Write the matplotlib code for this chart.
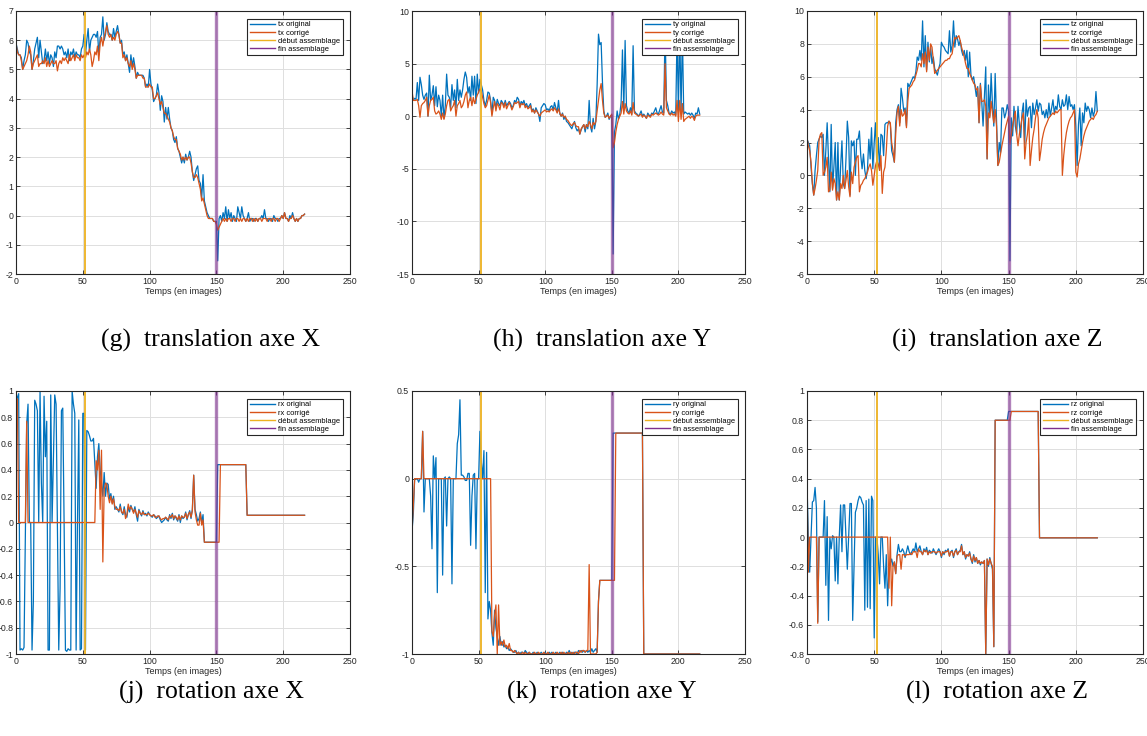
import numpy as np
import matplotlib.pyplot as plt
from matplotlib.ticker import FuncFormatter

# --------------------------
# DONNEES
# --------------------------
debut_assemblage = 52
fin_assemblage = 150

tx_original = [
    5.9, 5.7, 5.5, 5.5, 5.4, 5.0, 5.3, 5.5, 6.0, 5.9,
    5.6, 5.5, 5.0, 5.3, 5.7, 5.9, 6.1, 5.4, 6.0, 5.6,
    5.2, 5.3, 5.7, 5.3, 5.6, 5.2, 5.5, 5.4, 5.1, 5.6,
    5.4, 5.8, 5.8, 5.7, 5.8, 5.7, 5.5, 5.6, 5.4, 5.7,
    5.3, 5.6, 5.5, 5.7, 5.4, 5.6, 5.5, 5.5, 5.4, 5.7,
    5.8, 6.2, 5.5, 6.0, 6.4, 5.6, 6.0, 6.1, 6.2, 6.2,
    6.1, 6.3, 5.5, 6.1, 6.2, 6.8, 6.0, 6.2, 6.6, 6.3,
    6.2, 6.2, 6.0, 6.4, 6.1, 6.3, 6.5, 6.2, 5.9, 6.0,
    5.5, 5.6, 5.3, 5.5, 5.2, 4.9, 5.5, 5.1, 5.4, 5.1,
    4.7, 4.9, 4.8, 4.8, 4.8, 4.8, 4.7, 4.4, 4.5, 4.4,
    5.0, 4.5, 4.3, 3.9, 4.0, 4.1, 4.5, 4.2, 3.6, 4.1,
    3.9, 3.2, 3.7, 3.3, 3.7, 3.3, 3.0, 2.9, 2.6, 2.5,
    2.7, 2.3, 2.2, 2.0, 1.8, 2.0, 1.8, 2.1, 1.9, 2.0,
    2.2, 2.0, 1.5, 1.2, 1.4, 1.6, 1.7, 1.2, 1.1, 0.6,
    1.4, 0.5, 0.3, 0.1, 0.0, -0.1, -0.1, -0.1, -0.2, -0.2,
    -0.2, -1.55, -0.1, 0.0, -0.2, 0.1, -0.1, 0.3, -0.2, 0.2,
    -0.1, 0.1, -0.2, 0.0, -0.1, -0.2, 0.3, 0.1, -0.1, 0.3,
    0.0, -0.1, -0.2, -0.1, 0.1, -0.2, -0.1, -0.1, -0.2, -0.1,
    -0.1, -0.2, -0.1, -0.1, 0.0, -0.1, 0.2, -0.1, -0.1, -0.2,
    -0.1, -0.1, -0.2, 0.0, -0.1, -0.1, -0.2, -0.1, -0.1, 0.0,
    -0.1, 0.1, -0.1, -0.1, -0.2, 0.0, -0.1, 0.1, -0.1, -0.2,
    -0.1, -0.2, -0.1, -0.1, 0.0, 0.0, 0.05,
]
tx_corrige = [
    5.9, 5.6, 5.5, 5.5, 5.3, 5.0, 5.1, 5.2, 5.3, 5.5,
    5.8, 5.6, 5.0, 5.2, 5.3, 5.4, 5.5, 5.1, 5.2, 5.2,
    5.3, 5.2, 5.4, 5.1, 5.3, 5.1, 5.2, 5.3, 5.2, 5.2,
    5.3, 4.95, 5.2, 5.3, 5.2, 5.4, 5.3, 5.4, 5.3, 5.2,
    5.5, 5.3, 5.4, 5.5, 5.3, 5.5, 5.4, 5.4, 5.3, 5.5,
    5.4, 5.5, 5.4, 5.6, 5.5, 5.7, 5.5, 5.1, 5.3, 5.6,
    5.5, 5.8, 5.3, 5.9, 6.1, 5.8, 6.1, 6.3, 6.5, 6.2,
    6.1, 6.2, 6.0, 6.1, 6.0, 6.2, 6.3, 6.2, 5.9, 5.9,
    5.4, 5.5, 5.3, 5.4, 5.2, 5.1, 5.3, 5.0, 5.2, 5.0,
    4.7, 4.8, 4.8, 4.8, 4.8, 4.7, 4.7, 4.4, 4.4, 4.4,
    4.5, 4.4, 4.4, 4.0, 4.0, 4.1, 4.2, 4.0, 3.8, 3.9,
    3.7, 3.5, 3.5, 3.4, 3.3, 3.2, 3.0, 2.9, 2.7, 2.6,
    2.6, 2.3, 2.2, 2.1, 1.9, 2.0, 1.9, 2.0, 1.9, 2.0,
    2.0, 1.8, 1.5, 1.3, 1.3, 1.4, 1.3, 1.1, 0.9, 0.5,
    0.6, 0.4, 0.2, 0.0, -0.1, -0.1, -0.1, -0.1, -0.2, -0.2,
    -0.3, -0.5, -0.4, -0.3, -0.2, -0.1, -0.2, -0.1, -0.2, -0.1,
    -0.1, -0.2, -0.1, -0.1, -0.2, -0.1, -0.1, -0.2, -0.1, -0.2,
    -0.1, -0.1, -0.2, -0.1, -0.2, -0.1, -0.1, -0.2, -0.1, -0.2,
    -0.1, -0.2, -0.1, -0.1, -0.2, -0.1, -0.1, -0.1, -0.2, -0.1,
    -0.1, -0.2, -0.1, -0.1, -0.2, -0.1, -0.1, -0.2, -0.1, 0.0,
    -0.1, 0.1, -0.1, -0.1, -0.2, -0.1, -0.1, 0.0, -0.1, -0.2,
    -0.1, -0.2, -0.1, -0.1, 0.0, 0.0, 0.05,
]

ty_original = [
    2.0, 1.5, 1.7, 1.6, 3.2, 1.5, 3.7, 3.0, 2.0, 1.6,
    2.0, 2.2, 0.0, 3.9, 1.5, 2.0, 2.9, 1.0, 2.8, 0.9,
    2.0, 1.5, 0.0, 2.0, -0.2, 1.0, 4.0, 2.0, 1.8, 0.8,
    3.0, 1.5, 2.5, 0.8, 3.5, 1.5, 2.5, 1.8, 2.5, 3.5,
    4.2, 3.7, 2.2, 2.8, 1.5, 3.8, 2.0, 3.8, 1.2, 4.0,
    2.2, 3.5, 3.0, 2.5, 1.5, 1.0, 1.5, 2.3, 2.2, 1.5,
    0.2, 1.8, 1.5, 0.8, 1.6, 1.2, 1.0, 1.5, 1.3, 1.0,
    1.5, 1.0, 1.2, 1.4, 1.2, 0.8, 1.0, 1.5, 1.3, 1.8,
    1.6, 1.0, 1.4, 1.2, 1.5, 1.0, 1.2, 0.8, 1.0, 1.2,
    0.5, 0.7, 0.3, 0.8, 0.5, 0.2, -0.5, 0.8, 1.0, 1.2,
    1.1, 0.6, 0.7, 0.5, 0.9, 1.0, 0.6, 1.3, 0.8, 0.4,
    1.5, 0.2, 0.0, 0.3, -0.3, 0.0, -0.5, -0.6, -0.8, -1.0,
    -1.2, -0.8, -0.5, -1.1, -1.4, -1.2, -1.7, -1.3, -1.0, -0.8,
    -1.5, -0.8, -1.2, 1.5, -1.0, -1.5, -0.2, -1.2, -0.5, 3.0,
    7.8, 6.8, 7.0, 3.2, 0.5, -0.1, 0.0, 0.3, -0.3, 0.0,
    0.1, -13.1, -1.5, -0.8, 0.5, -0.3, 0.2, 1.3, 6.3, 0.5,
    7.2, 1.0, 0.5, 0.3, 0.8, 0.2, 6.7, 0.5, 0.3, 0.2,
    0.0, 0.2, 0.5, 0.0, 0.2, 0.0, -0.2, 0.3, 0.1, 0.0,
    0.3, 0.2, 0.5, 0.8, 0.3, 0.2, 0.6, 1.0, 0.4, 0.3,
    8.5, 1.5, 1.0, 0.3, 0.2, 0.5, 0.3, 0.4, 0.1, 8.0,
    0.5, 8.5, 0.3, 8.0, 0.2, 0.4, 0.3, 0.2, 0.3, 0.1,
    0.3, 0.1, -0.2, 0.3, 0.2, 0.8, 0.2,
]
ty_corrige = [
    2.4, 1.5, 1.5, 1.5, 1.6, 1.0, -0.1, 1.0, 1.2, 1.3,
    1.5, 1.8, 0.0, 1.0, 1.5, 1.6, 1.8, 0.5, 0.2, 0.3,
    0.5, 0.2, -0.3, 0.3, -0.3, 0.2, 1.0, 1.5, 1.6, 0.5,
    0.8, 1.0, 1.5, 0.0, 1.0, 1.2, 1.5, 0.8, 1.0, 1.4,
    2.0, 2.3, 0.8, 1.5, 1.8, 1.0, 1.8, 1.2, 1.6, 2.0,
    2.3, 2.6, 2.4, 1.8, 1.2, 0.8, 1.0, 1.5, 2.0, 1.3,
    0.0, 0.8, 1.4, 0.5, 1.2, 1.0, 0.6, 1.3, 1.2, 0.8,
    1.3, 0.7, 1.0, 1.3, 1.0, 0.6, 0.9, 1.3, 1.2, 1.3,
    1.4, 0.8, 1.2, 1.1, 1.2, 0.8, 1.0, 0.7, 0.8, 1.0,
    0.4, 0.6, 0.3, 0.6, 0.4, 0.2, 0.0, 0.3, 0.4, 0.5,
    0.6, 0.4, 0.5, 0.4, 0.6, 0.7, 0.5, 0.8, 0.6, 0.3,
    0.7, 0.3, 0.0, 0.2, -0.1, 0.0, -0.3, -0.4, -0.6, -0.8,
    -0.9, -0.7, -0.6, -0.9, -1.0, -1.0, -1.7, -1.2, -1.0, -0.8,
    -1.2, -0.8, -1.0, -0.5, -0.8, -1.2, -0.6, -0.8, -0.5, 0.5,
    1.5, 2.5, 3.1, 1.5, 0.3, -0.1, 0.0, 0.1, -0.2, 0.0,
    0.2, -3.0, -2.5, -1.5, -0.8, -0.3, 0.0, 0.3, 1.4, 0.2,
    1.2, 0.5, 0.3, 0.2, 0.5, 0.1, 1.3, 0.3, 0.2, 0.1,
    0.0, 0.1, 0.2, -0.1, 0.1, 0.0, -0.2, 0.1, 0.0, -0.1,
    0.2, 0.1, 0.2, 0.3, 0.2, 0.1, 0.2, 0.4, 0.2, 0.1,
    5.0, 0.8, 0.5, 0.2, 0.1, 0.3, 0.1, 0.2, 0.0, 1.5,
    -0.5, 1.5, -0.3, 1.2, -0.5, -0.3, -0.2, -0.1, 0.0, -0.2,
    0.0, -0.1, -0.4, 0.0, 0.1, 0.1, 0.1,
]

tz_original = [
    2.2, 2.0, 1.8, 0.5, -0.5, -1.2, 0.3, 1.2, 2.0, 2.2,
    2.4, 2.3, 2.5, 0.0, 1.5, 3.2, 1.0, -1.0, 3.1, -0.8,
    0.5, 2.0, -1.5, 2.0, -1.5, 0.5, 2.1, -0.5, -0.8, 1.0,
    3.3, 2.3, -1.2, 2.1, 1.8, 2.1, 0.0, 2.2, 2.2, 2.7,
    1.2, 0.4, 1.3, 0.3, -0.2, 0.4, 2.2, 1.0, 2.9, 0.4,
    2.0, 3.2, 0.5, 2.3, 0.3, 2.5, 2.4, 1.2, 3.1, 3.2,
    3.2, 3.3, 3.1, 1.5, 1.2, 0.8, 3.2, 4.0, 4.3, 3.2,
    5.3, 4.7, 3.9, 4.1, 3.0, 5.6, 5.4, 5.6, 5.8, 6.0,
    5.9, 6.3, 7.2, 7.0, 7.6, 7.0, 9.4, 6.6, 8.5, 6.4,
    8.1, 6.9, 7.8, 6.8, 7.2, 6.5, 6.3, 6.1, 6.5, 6.8,
    8.1, 7.9, 7.8, 7.6, 7.5, 7.4, 8.8, 7.5, 7.9, 9.4,
    7.8, 8.5, 8.3, 7.9, 8.2, 7.6, 7.3, 7.6, 7.0, 7.6,
    6.0, 7.5, 6.1, 5.8, 6.0, 5.4, 4.8, 5.4, 3.2, 5.6,
    4.5, 3.0, 4.8, 6.6, 1.0, 5.5, 3.6, 6.2, 4.3, 3.0,
    6.2, 3.5, 0.6, 2.0, 1.4, 4.1, 4.1, 3.5, 3.8, 4.3,
    3.9, -5.2, 3.5, 2.4, 4.2, 3.0, 2.5, 4.2, 3.1, 2.3,
    3.8, 4.4, 1.9, 4.6, 3.6, 4.1, 4.2, 2.9, 4.4, 3.7,
    4.1, 4.6, 3.9, 4.4, 4.3, 3.7, 3.9, 3.5, 4.0, 3.5,
    4.4, 3.6, 4.1, 4.6, 3.8, 4.2, 4.0, 4.9, 4.2, 4.0,
    4.6, 4.2, 4.3, 4.9, 4.0, 4.8, 4.2, 4.3, 4.0, 4.3,
    3.0, 0.6, 3.1, 4.1, 1.8, 3.8, 3.2, 4.4, 3.9, 4.2,
    4.0, 3.5, 4.1, 3.6, 3.9, 5.1, 3.9,
]
tz_corrige = [
    2.3, 1.8, 1.5, 0.8, -0.5, -1.2, -0.8, -0.3, 0.3, 2.2,
    2.5, 2.6, 0.0, 0.2, 0.5, 1.1, -1.0, -0.9, 0.2, -0.9,
    -0.2, -0.5, -1.5, -1.0, -1.5, -0.5, -0.8, 0.0, -0.8, -0.3,
    0.3, -0.7, -1.3, 0.2, -0.5, 0.5, 0.8, 1.1, 1.2, -1.0,
    -0.6, -0.5, -0.3, -0.2, 0.0, 0.2, 0.5, 0.7, 0.3, -0.6,
    0.0, 0.6, 0.9, 0.7, 0.3, 1.2, -1.1, 0.2, 0.5, 1.5,
    3.0, 3.3, 3.2, 2.0, 1.5, 0.8, 2.5, 3.8, 4.2, 3.0,
    4.0, 3.6, 3.7, 4.0, 2.9, 4.5, 5.3, 5.4, 5.5, 5.7,
    5.8, 6.1, 6.4, 6.8, 6.8, 6.6, 7.4, 6.8, 7.5, 6.3,
    7.8, 7.0, 8.0, 7.8, 7.0, 6.2, 6.3, 6.4, 6.5, 6.6,
    6.7, 6.8, 6.9, 7.0, 7.0, 7.1, 7.1, 7.3, 7.4, 8.0,
    8.4, 8.3, 8.4, 8.5, 8.2, 7.8, 7.5, 7.2, 6.8, 6.5,
    6.5, 6.2, 6.0, 5.8, 5.6, 5.5, 5.2, 5.3, 3.2, 5.5,
    4.5, 4.5, 4.6, 4.2, 1.0, 3.8, 3.5, 4.5, 3.8, 3.2,
    4.0, 3.0, 0.6, 0.8, 1.3, 1.8, 2.2, 2.6, 3.0, 3.3,
    3.6, 1.9, 2.5, 3.0, 3.5, 3.9, 2.5, 1.8, 2.5, 3.0,
    3.5, 3.8, 1.0, 2.0, 2.5, 3.5, 0.6, 1.5, 2.3, 2.8,
    3.5, 4.0, 3.5, 0.9, 1.5, 2.2, 2.6, 2.9, 3.1, 3.3,
    3.5, 3.6, 3.7, 3.8, 3.7, 3.9, 3.8, 3.9, 4.0, 4.0,
    0.0, 1.2, 2.0, 2.6, 3.0, 3.3, 3.5, 3.6, 3.8, 4.0,
    0.2, -0.1, 0.7, 1.0, 1.5, 2.0, 2.4, 2.7, 2.9, 3.1,
    3.3, 3.4, 3.5, 3.4, 3.6, 3.7, 3.9,
]

rx_original = [
    0.87, 0.95, 0.98, -0.97, -0.96, -0.97, -0.95, -0.1, 0.75, 0.9,
    0.0, 0.0, -0.97, -0.6, 0.93, 0.9, 0.85, 0.0, 1.0, 0.3,
    0.0, 0.96, 0.5, 0.77, -0.97, -0.97, 0.97, 0.0, 0.5, 0.97,
    0.9, 0.0, -0.97, -0.5, 0.85, 0.87, 0.0, -0.97, -0.98, -0.96,
    -0.97, -0.97, 1.0, 0.9, 0.83, -0.97, 0.0, 0.78, -0.97, -0.96,
    0.83, 0.83, -0.97, 0.7, 0.69, 0.66, 0.62, 0.62, 0.64, 0.45,
    0.26, 0.5, 0.6, 0.4, 0.3, 0.2, 0.38, 0.2, 0.3, 0.29,
    0.18, 0.22, 0.15, 0.2, 0.1, 0.12, 0.1, 0.08, 0.14, 0.08,
    0.06, 0.12, 0.06, 0.04, 0.12, 0.08, 0.13, 0.1, 0.08, 0.12,
    0.06, 0.01, 0.1, 0.07, 0.05, 0.09, 0.06, 0.07, 0.05, 0.08,
    0.06, 0.05, 0.04, 0.06, 0.05, 0.03, 0.04, 0.05, 0.02, 0.0,
    0.01, 0.02, 0.04, 0.02, 0.01, 0.06, 0.03, 0.07, 0.02, 0.05,
    0.03, 0.01, 0.06, 0.0, 0.05, 0.03, 0.04, 0.08, 0.02, 0.06,
    0.09, 0.03, 0.1, 0.36, 0.1, 0.06, 0.01, 0.03, 0.08, 0.0,
    0.06,
] + [-0.15] * 10 + [0.44] * 22 + [0.055] * 44
rx_corrige = [0.87, 0.94] + [0.0] * 6 + [0.77] + [0.0] * 51 + [
    0.47, 0.4, 0.55, 0.1, 0.55, -0.3, 0.25, 0.3, 0.29, 0.2,
    0.15, 0.2, 0.14, 0.18, 0.12, 0.1, 0.1, 0.09, 0.12, 0.08,
    0.07, 0.1, 0.03, 0.06, 0.14, 0.1, 0.12, 0.1, 0.07, 0.1,
    0.07, 0.04, 0.09, 0.07, 0.06, 0.08, 0.06, 0.06, 0.06, 0.07,
    0.06, 0.05, 0.05, 0.06, 0.04, 0.04, 0.05, 0.05, 0.03, 0.02,
    0.03, 0.03, 0.04, 0.03, 0.02, 0.05, 0.04, 0.06, 0.03, 0.05,
    0.04, 0.02, 0.05, 0.02, 0.05, 0.04, 0.04, 0.07, 0.03, 0.06,
    0.08, 0.04, 0.09, 0.36, 0.08, 0.02, -0.02, -0.02, 0.07, -0.02,
    0.02,
] + [-0.15] * 12 + [0.44] * 20 + [0.055] * 44

ry_original = [
    -0.3, -0.2, 0.0, 0.0, 0.0, -0.02, 0.0, 0.0, 0.27, -0.19,
    0.0, 0.0, 0.0, 0.0, -0.1, -0.4, 0.13, 0.0, 0.12, -0.65,
    0.0, 0.0, 0.0, -0.55, 0.0, 0.01, -0.27, 0.0, 0.01, 0.0,
    -0.6, 0.0, 0.0, 0.0, 0.2, 0.25, 0.45, 0.02, 0.02, 0.01,
    -0.01, -0.01, 0.03, 0.03, -0.38, -0.1, 0.02, 0.03, -0.4, 0.0,
    0.0, 0.27, 0.1, 0.0, 0.16, -0.65, 0.15, -0.8, -0.7, -0.75,
    -0.88, -0.95, -0.75, -0.85, -0.9, -0.95, -0.9, -0.95, -0.93, -0.96,
    -0.95, -0.97, -0.96, -0.98, -0.97, -0.98, -0.99, -0.99, -0.98, -1.0,
    -0.99, -1.0, -0.99, -0.99, -1.0, -0.98, -0.99, -1.0, -0.99, -1.0,
    -1.0, -0.99, -1.0, -1.0, -0.99, -1.0, -1.0, -0.99, -1.0, -1.0,
    -0.99, -1.0, -1.0, -0.99, -1.0, -0.99, -1.0, -1.0, -0.99, -1.0,
    -1.0, -0.99, -1.0, -0.99, -1.0, -1.0, -0.99, -1.0, -0.98, -1.0,
    -0.99, -1.0, -0.99, -0.99, -1.0, -0.98, -0.99, -0.98, -0.99, -0.98,
    -0.99, -0.98, -0.99, -0.98, -0.99, -0.97, -0.99, -0.98, -0.97, -0.99,
    -0.7,
] + [-0.58] * 10 + [0.26] * 23 + [-1.0] * 43
ry_corrige = [-0.3, -0.15, 0.0, 0.0, 0.0, 0.0, 0.0, 0.0, 0.27, 0.0] + [0.0] * 50 + [
    -0.87, -0.9, -0.78, -0.72, -1.0, -0.72, -0.95, -0.93, -0.95, -0.92,
    -0.96, -0.95, -0.97, -0.94, -0.98, -0.98, -0.99, -0.98, -0.99, -1.0,
    -0.99, -1.0, -1.0, -0.99, -1.0, -0.99, -1.0, -1.0, -0.99, -1.0,
    -1.0, -1.0, -0.99, -1.0, -1.0, -0.99, -1.0, -1.0, -1.0, -0.99,
    -1.0, -1.0, -0.99, -1.0, -1.0, -1.0, -0.99, -1.0, -1.0, -0.99,
    -1.0, -1.0, -0.99, -1.0, -0.99, -1.0, -1.0, -0.99, -1.0, -0.99,
    -1.0, -0.99, -1.0, -0.99, -0.99, -1.0, -0.98, -0.99, -0.98, -0.98,
    -0.99, -0.98, -0.98, -0.49, -1.0, -1.0, -1.0, -1.0, -1.0, -0.99,
    -0.7,
] + [-0.58] * 12 + [0.26] * 21 + [-1.0] * 43

rz_original = [
    0.37, 0.0, -0.24, 0.0, 0.24, 0.25, 0.34, 0.2, -0.58, 0.0,
    0.0, 0.0, 0.0, 0.25, -0.33, 0.14, -0.57, 0.0, -0.08, 0.01,
    0.0, -0.3, 0.0, -0.32, 0.0, 0.22, -0.1, 0.22, 0.22, 0.0,
    -0.22, 0.0, 0.23, 0.23, -0.57, -0.2, 0.17, 0.2, 0.25, 0.28,
    0.27, 0.24, 0.22, -0.5, 0.25, -0.48, 0.26, -0.49, 0.28, 0.25,
    -0.69, 0.0, 0.0, -0.12, -0.32, 0.0, 0.0, -0.2, -0.35, -0.12,
    -0.47, -0.2, -0.18, -0.15, -0.2, -0.17, -0.25, -0.12, -0.05, -0.1,
    -0.1, -0.08, -0.1, -0.14, -0.1, -0.06, -0.1, -0.12, -0.1, -0.08,
    -0.1, -0.04, -0.1, -0.08, -0.06, -0.1, -0.12, -0.08, -0.1, -0.07,
    -0.12, -0.09, -0.1, -0.11, -0.08, -0.1, -0.12, -0.1, -0.08, -0.1,
    -0.14, -0.1, -0.12, -0.09, -0.1, -0.08, -0.13, -0.1, -0.09, -0.14,
    -0.1, -0.08, -0.12, -0.1, -0.09, -0.05, -0.12, -0.1, -0.15, -0.12,
    -0.13, -0.1, -0.15, -0.18, -0.12, -0.17, -0.14, -0.18, -0.16, -0.19,
    -0.17, -0.18, -0.16, -0.8, -0.15, -0.2, -0.14, -0.18, -0.22, -0.75,
] + [0.8] * 10 + [0.86] * 23 + [-0.005] * 44
rz_corrige = [0.37, -0.24] + [0.0] * 6 + [-0.59] + [0.0] * 52 + [
    -0.35, 0.0, -0.47, -0.2,
    -0.17, -0.25, -0.13, -0.12, -0.12,
    -0.22, -0.12, -0.12, -0.13, -0.12, -0.12, -0.12, -0.11, -0.12, -0.1,
    -0.1, -0.1, -0.14, -0.08, -0.1, -0.1, -0.12, -0.09, -0.1, -0.09,
    -0.12, -0.1, -0.11, -0.1, -0.1, -0.1, -0.11, -0.1, -0.1, -0.1,
    -0.13, -0.1, -0.11, -0.1, -0.1, -0.09, -0.13, -0.1, -0.1, -0.13,
    -0.1, -0.09, -0.12, -0.1, -0.1, -0.06, -0.12, -0.1, -0.14, -0.12,
    -0.13, -0.11, -0.15, -0.17, -0.13, -0.16, -0.14, -0.18, -0.16, -0.18,
    -0.17, -0.18, -0.16, -0.8, -0.15, -0.19, -0.15, -0.18, -0.2, -0.75,
] + [0.8] * 12 + [0.86] * 21 + [-0.005] * 44

# --------------------------
# STYLE
# --------------------------
BLEU = '#0072BD'
ORANGE = '#D95319'
JAUNE = '#EDB120'
VIOLET = '#7E2F8E'

plt.rcParams['font.family'] = ['Liberation Sans', 'DejaVu Sans']

W, H = 1147, 736
fig = plt.figure(figsize=(W / 100, H / 100), dpi=100)


def fmt(v, pos):
    v = round(v, 3)
    if v == 0:
        return '0'
    return f'{v:g}'


def tracer(rect, orig, corr, nom, ylim, yticks):
    ax = fig.add_axes(rect)
    ax.plot(np.arange(len(orig)), orig, color=BLEU, lw=0.9, label=f'{nom} original')
    ax.plot(np.arange(len(corr)), corr, color=ORANGE, lw=0.9, label=f'{nom} corrigé')
    ax.axvline(debut_assemblage, color=JAUNE, lw=1.3, label='début assemblage')
    ax.axvline(fin_assemblage, color=VIOLET, lw=2.4, alpha=0.6, label='fin assemblage')
    ax.set_xlim(0, 250)
    ax.set_ylim(*ylim)
    ax.set_xticks(np.arange(0, 251, 50))
    ax.set_yticks(yticks)
    ax.xaxis.set_major_formatter(FuncFormatter(fmt))
    ax.yaxis.set_major_formatter(FuncFormatter(fmt))
    ax.grid(True, color='#DEDEDE', lw=0.7)
    ax.set_axisbelow(True)
    ax.tick_params(direction='in', length=3, width=0.6, labelsize=6.3,
                   top=True, right=True, pad=2, colors='#262626')
    for s in ax.spines.values():
        s.set_color('#262626')
        s.set_linewidth(0.8)
    ax.set_xlabel('Temps (en images)', fontsize=6.5, labelpad=1, color='#262626')
    leg = ax.legend(loc='upper right', fontsize=5.4, fancybox=False, framealpha=1,
                    edgecolor='#262626', borderaxespad=1.0, handlelength=3.3,
                    handletextpad=0.4, labelspacing=0.12, borderpad=0.35)
    leg.get_frame().set_linewidth(0.8)
    for ligne in leg.get_lines():
        ligne.set_linewidth(1.0)
        ligne.set_alpha(1)
    return ax


# rectangles des axes (en pixels convertis)
cols = [(16, 334), (412, 333), (807, 336)]
rows = [(11, 263), (391, 263)]


def rect(c, r):
    x0, w = cols[c]
    y0, h = rows[r]
    return [x0 / W, 1 - (y0 + h) / H, w / W, h / H]


tracer(rect(0, 0), tx_original, tx_corrige, 'tx', (-2, 7), np.arange(-2, 8, 1))
tracer(rect(1, 0), ty_original, ty_corrige, 'ty', (-15, 10), np.arange(-15, 11, 5))
tracer(rect(2, 0), tz_original, tz_corrige, 'tz', (-6, 10), np.arange(-6, 11, 2))
tracer(rect(0, 1), rx_original, rx_corrige, 'rx', (-1, 1), np.linspace(-1, 1, 11))
tracer(rect(1, 1), ry_original, ry_corrige, 'ry', (-1, 0.5), np.arange(-1, 0.51, 0.5))
tracer(rect(2, 1), rz_original, rz_corrige, 'rz', (-0.8, 1), np.linspace(-0.8, 1, 10))

# legendes des sous-figures
legendes = ['(g)  translation axe X', '(h)  translation axe Y', '(i)  translation axe Z',
            '(j)  rotation axe X', '(k)  rotation axe Y', '(l)  rotation axe Z']
cx = [211, 602, 997]
cy = [340, 692]
for i, texte in enumerate(legendes):
    fig.text(cx[i % 3] / W, 1 - cy[i // 3] / H, texte, ha='center', va='center',
             fontsize=18.5, family=['Liberation Serif', 'DejaVu Serif'])

fig.savefig('out.png', dpi=100)
